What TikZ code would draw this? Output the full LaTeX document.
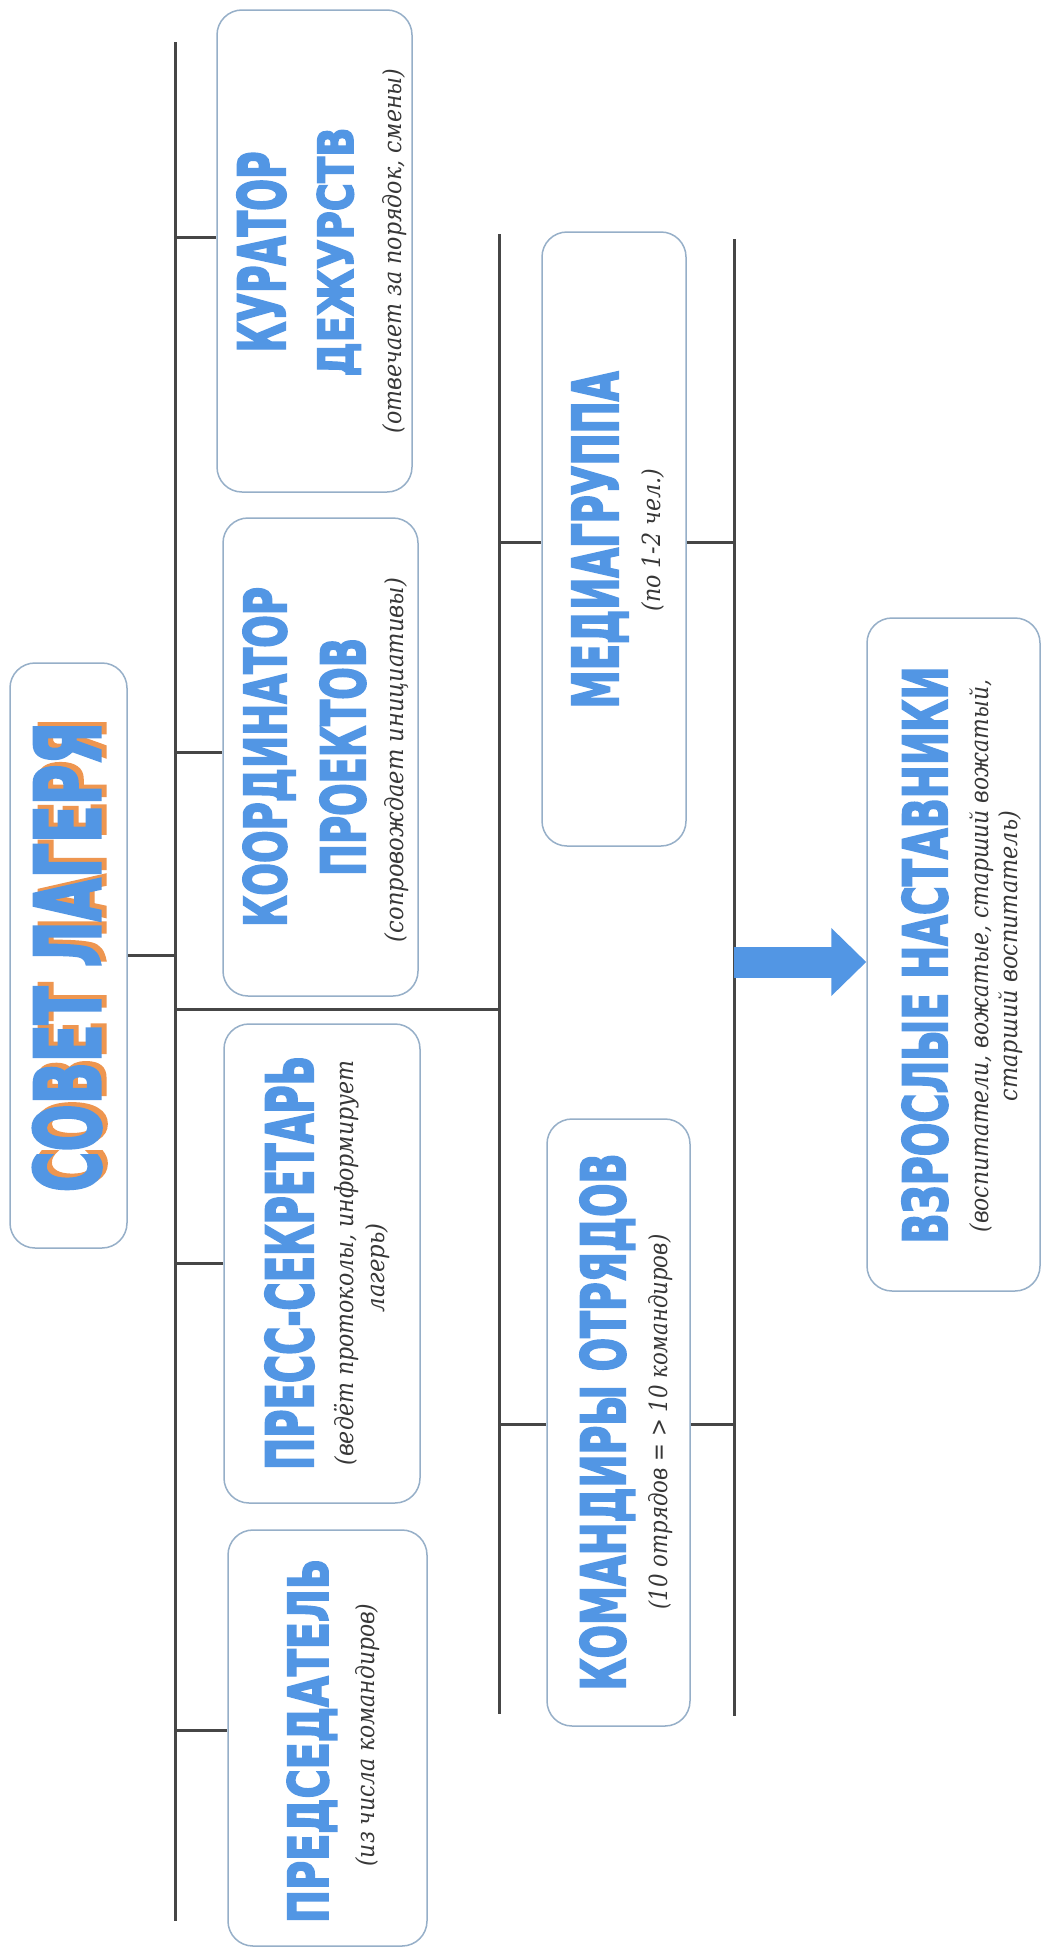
\documentclass[tikz,border=0pt]{standalone}
\usepackage{fontspec}
\usepackage{graphicx}
\usetikzlibrary{arrows.meta}

\newfontfamily\hdfont[FakeBold=3.5]{DejaVu Sans Bold}
\newfontfamily\subfont{DejaVu Serif}

\definecolor{hdblue}{RGB}{82,150,228}
\definecolor{shorange}{RGB}{238,150,80}
\definecolor{boxline}{RGB}{150,175,200}
\definecolor{linegray}{RGB}{70,70,70}
\definecolor{subgray}{RGB}{55,55,55}

\newcommand{\hdline}[3]{\resizebox{#1pt}{#2pt}{#3}}
\newcommand{\sbline}[2]{\resizebox{#1pt}{\height}{#2}}

\begin{document}
\begin{tikzpicture}[x=1pt,y=-1pt,
  box/.style={draw=boxline,line width=1.5pt,rounded corners=25pt,fill=white,inner sep=0pt},
  hd/.style={rotate=90,anchor=base,inner sep=0pt,text=hdblue,font=\hdfont},
  sb/.style={rotate=90,anchor=base,inner sep=0pt,text=subgray,font=\subfont\itshape\fontsize{25}{30}\selectfont},
  conn/.style={draw=linegray,line width=3pt},
  bigarrow/.style={draw=hdblue,line width=31pt,-{Triangle[length=35pt,width=66pt]}}]

\fill[white] (0,0) rectangle (1043,1949);
\useasboundingbox (0,0) rectangle (1043,1949);

\node[box,minimum width=117pt,minimum height=585pt] (sovet) at (68.5,955.5) {};
\node[box,minimum width=195pt,minimum height=482pt] (kur) at (314.5,251) {};
\node[box,minimum width=195pt,minimum height=478pt] (koord) at (320.5,757) {};
\node[box,minimum width=196pt,minimum height=479pt] (press) at (322,1263.5) {};
\node[box,minimum width=199pt,minimum height=416pt] (pred) at (327.5,1738) {};
\node[box,minimum width=144pt,minimum height=614pt] (media) at (614,539) {};
\node[box,minimum width=143pt,minimum height=607pt] (komand) at (618.5,1422.5) {};
\node[box,minimum width=173pt,minimum height=673pt] (vzr) at (953.5,954.5) {};

\node[hd,text=shorange] (sovetsh) at (105,953) {\hdline{470}{67}{СОВЕТ ЛАГЕРЯ}};
\node[hd] (sovettxt) at (100,957) {\hdline{470}{67}{СОВЕТ ЛАГЕРЯ}};

\node[hd] (kura) at (285,252) {\hdline{201}{48}{КУРАТОР}};
\node[hd] (kurb) at (353,252) {\hdline{249}{36}{ДЕЖУРСТВ}};
\node[sb] (kurc) at (401,251) {\sbline{365}{(отвечает за порядок, смены)}};

\node[hd] (koorda) at (286,757) {\hdline{340}{43}{КООРДИНАТОР}};
\node[hd] (koordb) at (365,757) {\hdline{238}{45}{ПРОЕКТОВ}};
\node[sb] (koordc) at (403,760) {\sbline{364}{(сопровождает инициативы)}};

\node[hd] (pressa) at (313,1263) {\hdline{414}{48}{ПРЕСС-СЕКРЕТАРЬ}};
\node[sb] (pressb) at (353,1263) {\sbline{405}{(ведёт протоколы, информирует}};
\node[sb] (pressc) at (384,1268) {\sbline{89}{лагерь)}};

\node[hd] (preda) at (328,1741) {\hdline{364}{41}{ПРЕДСЕДАТЕЛЬ}};
\node[sb] (predb) at (374,1735) {\sbline{263}{(из числа командиров)}};

\node[hd] (mediaa) at (618,540) {\hdline{337}{46}{МЕДИАГРУППА}};
\node[sb] (mediab) at (660,540) {\sbline{143}{(по 1-2 чел.)}};

\node[hd] (komanda) at (625,1422) {\hdline{537}{45}{КОМАНДИРЫ ОТРЯДОВ}};
\node[sb] (komandb) at (667,1422) {\sbline{375}{(10 отрядов = > 10 командиров)}};

\node[hd] (vzra) at (947,955) {\hdline{577}{45}{ВЗРОСЛЫЕ НАСТАВНИКИ}};
\node[sb] (vzrb) at (988,956) {\sbline{553}{(воспитатели, вожатые, старший вожатый,}};
\node[sb] (vzrc) at (1017,956) {\sbline{290}{старший воспитатель)}};

\coordinate (s1t) at (175,42);
\coordinate (s1b) at (175,1921);
\coordinate (s2t) at (499,234);
\coordinate (s2b) at (499,1714);
\coordinate (s3t) at (734,239);
\coordinate (s3b) at (734,1716);

\draw[conn] (s1t) -- (s1b);
\draw[conn] (s2t) -- (s2b);
\draw[conn] (s3t) -- (s3b);

\draw[conn] (sovet.east) -- (sovet.east -| s1t);

\coordinate (jkur) at (175,237);
\coordinate (jkoord) at (175,752);
\coordinate (jpress) at (175,1263);
\coordinate (jpred) at (175,1730);
\draw[conn] (jkur) -- (jkur -| kur.west);
\draw[conn] (jkoord) -- (jkoord -| koord.west);
\draw[conn] (jpress) -- (jpress -| press.west);
\draw[conn] (jpred) -- (jpred -| pred.west);

\coordinate (jmid) at (175,1009);
\draw[conn] (jmid) -- (jmid -| s2t);

\coordinate (jmedia) at (499,542);
\coordinate (jkomand) at (499,1424);
\draw[conn] (jmedia) -- (jmedia -| media.west);
\draw[conn] (media.east |- jmedia) -- (jmedia -| s3t);
\draw[conn] (jkomand) -- (jkomand -| komand.west);
\draw[conn] (komand.east |- jkomand) -- (jkomand -| s3t);

\coordinate (jarrow) at (734,962);
\draw[bigarrow] (jarrow) -- (jarrow -| vzr.west);

\end{tikzpicture}
\end{document}
